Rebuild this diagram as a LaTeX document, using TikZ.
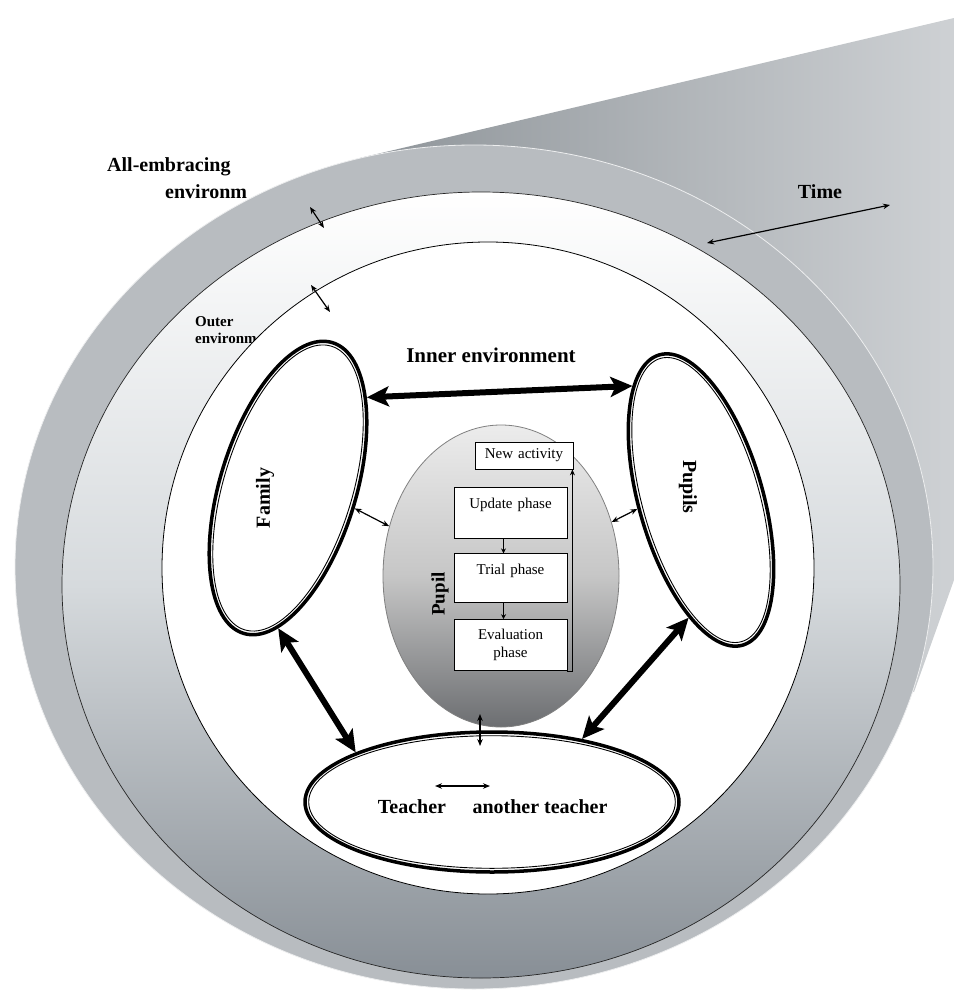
\documentclass[tikz,border=0pt]{standalone}
\usepackage{fontspec}
\setmainfont{Liberation Serif}
\usetikzlibrary{calc,shapes,positioning,arrows.meta}

\definecolor{tubedark}{RGB}{142,148,153}
\definecolor{tubelight}{RGB}{206,209,212}
\definecolor{embrace}{RGB}{184,188,192}
\definecolor{outermid}{RGB}{214,218,221}
\definecolor{outerlow}{RGB}{136,143,150}
\definecolor{pupiltop}{RGB}{236,236,236}
\definecolor{pupilmid}{RGB}{198,198,198}
\definecolor{pupillow}{RGB}{108,110,113}

\tikzset{
  ring/.style={ellipse, draw, line width=3.5pt, fill=white, inner sep=0pt},
  inring/.style={ellipse, draw, line width=0.9pt, inner sep=0pt},
  pupilshape/.style={ellipse, draw=gray, line width=0.8pt, inner sep=0pt,
    top color=pupiltop, bottom color=pupillow, middle color=pupilmid},
  phase/.style={draw, line width=0.8pt, fill=white, minimum width=113pt,
    text width=105pt, align=center, inner sep=2pt, font=\fontsize{15}{18}\selectfont},
  biglabel/.style={inner sep=0pt, font=\fontsize{20}{22}\selectfont\bfseries},
  smalllabel/.style={inner sep=0pt, font=\fontsize{15}{16}\selectfont\bfseries},
  bigarrow/.style={{Stealth[length=22pt,width=20pt,inset=5pt]}-{Stealth[length=22pt,width=20pt,inset=5pt]}, line width=6pt},
  smallarrow/.style={<->, line width=1.2pt},
}

\begin{document}
\begin{tikzpicture}[x=1pt, y=-1pt, >={Stealth[length=7pt,width=5.5pt]}]
    \useasboundingbox (0,0) rectangle (954,995);

    % tube and rings of the environment
    \shade[left color=tubedark, right color=tubelight] (360,158) -- (954,18) -- (954,580) -- (914,692) -- (474,567) -- cycle;
    \filldraw[fill=embrace, draw=white!75!embrace, line width=0.8pt] (474,567) ellipse (459 and 422);
    \shadedraw[top color=white, bottom color=outerlow, middle color=outermid, draw=black!85, line width=0.7pt] (481,585) ellipse (419 and 393);

    \node[smalllabel, anchor=west] (outer1) at (195,322) {Outer};
    \node[smalllabel, anchor=west] (outer2) at (195,338) {environm};
    \filldraw[fill=white, draw=black, line width=0.8pt] (488,568) circle (326);

    \node[biglabel, anchor=west] (allemb1) at (107,167) {All-embracing};
    \node[biglabel, anchor=west] (allemb2) at (165,192) {environm};
    \node[biglabel] (time) at (820,192) {Time};
    \node[biglabel, font=\fontsize{21}{23}\selectfont\bfseries] (inner) at (491,355) {Inner environment};

    % the three groups round the pupil
    \node[ring, minimum width=304pt, minimum height=136pt, rotate=73] (family) at (288,488) {};
    \node[inring, minimum width=296.6pt, minimum height=128.6pt, rotate=73] at (family) {};
    \node[biglabel, rotate=90] (famtext) at (265,498) {Family};

    \node[ring, minimum width=302pt, minimum height=124pt, rotate=-74] (pupils) at (701,500) {};
    \node[inring, minimum width=294.6pt, minimum height=116.6pt, rotate=-74] at (pupils) {};
    \node[biglabel, rotate=-90] (pupilstext) at (688,487) {Pupils};

    \node[ring, minimum width=374pt, minimum height=140pt] (teachers) at (492,802) {};
    \node[inring, minimum width=366.6pt, minimum height=132.6pt] at (teachers) {};
    \node[biglabel] (teacher) at (412,807) {Teacher};
    \node[biglabel] (another) at (540,807) {another teacher};

    % the pupil and its phases
    \node[pupilshape, minimum width=236pt, minimum height=302pt] (pupil) at (501,576) {};
    \node[biglabel, font=\fontsize{19}{21}\selectfont\bfseries, rotate=90] (pupiltext) at (440,594) {Pupil};

    \node[phase, minimum height=51pt] (update) at (510.5,512.5) {Update phase\\\mbox{}};
    \node[phase, minimum height=49pt, below=15pt of update] (trial) {Trial phase\\\mbox{}};
    \node[phase, minimum height=51pt, below=16pt of trial] (eval) {Evaluation\\phase};
    \node[phase, minimum width=98pt, text width=92pt, minimum height=27pt] (newact) at (524,455.5) {New activity};

    \draw[->, >={Stealth[length=5pt,width=5pt]}, line width=0.8pt] ([xshift=-7pt]update.south) -- ([xshift=-7pt]trial.north);
    \draw[->, >={Stealth[length=5pt,width=5pt]}, line width=0.8pt] ([xshift=-7pt]trial.south) -- ([xshift=-7pt]eval.north);
    \draw[->, >={Stealth[length=6pt,width=5pt]}, line width=0.8pt] (eval.south east) -| ([xshift=-1pt]newact.south east);

    % Create edge connections
    \draw[bigarrow] (family.-24) -- (pupils.195);
    \draw[bigarrow] (family.193) -- (teachers.160);
    \draw[bigarrow] (pupils.338) -- (teachers.35);

    \draw[smallarrow] (family.south) -- (pupil.156);
    \draw[smallarrow] (pupil.26) -- (pupils.262);

    \coordinate (pt1) at (480,714);
    \coordinate (pt2) at (480,746);
    \draw[smallarrow] (pt1) -- (pt2);
    \coordinate (tt1) at (435,786);
    \coordinate (tt2) at (490,786);
    \draw[smallarrow] (tt1) -- (tt2);

    \coordinate (ae1) at (310,207);
    \coordinate (ae2) at (324,228);
    \draw[smallarrow] (ae1) -- (ae2);
    \coordinate (oe1) at (311,285);
    \coordinate (oe2) at (330,312);
    \draw[smallarrow] (oe1) -- (oe2);
    \coordinate (t1) at (707,243);
    \coordinate (t2) at (890,205);
    \draw[smallarrow] (t1) -- (t2);
\end{tikzpicture}
\end{document}
